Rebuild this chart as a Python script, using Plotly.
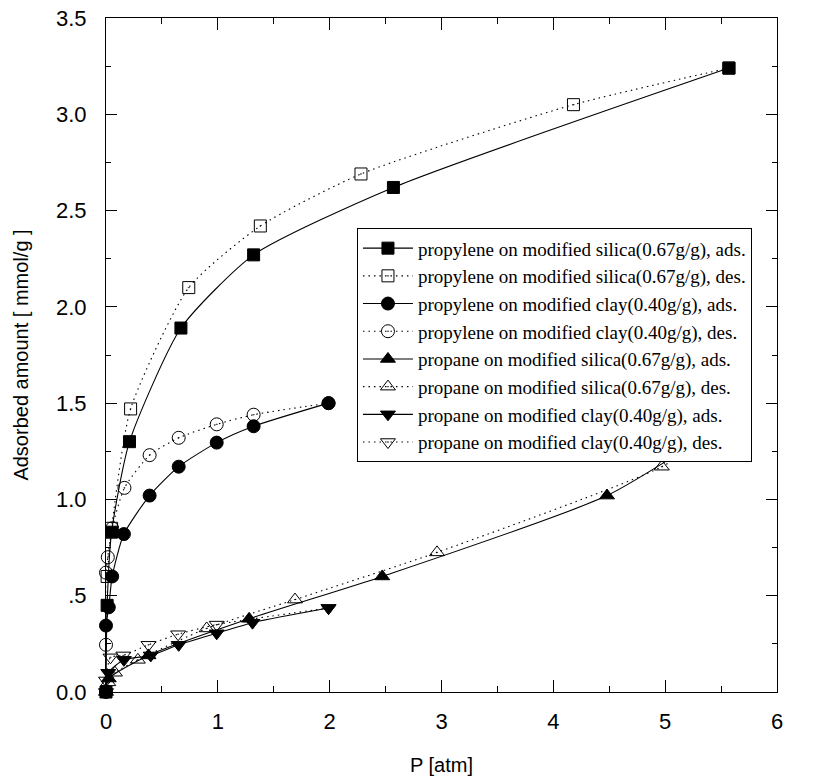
import plotly.graph_objects as go

# ---- data ----
ps_ads_x = [0.0, 0.01, 0.05, 0.21, 0.67, 1.32, 2.57, 5.57]
ps_ads_y = [0.0, 0.45, 0.83, 1.30, 1.89, 2.27, 2.62, 3.24]
ps_des_x = [5.57, 4.18, 2.28, 1.38, 0.74, 0.22, 0.05, 0.01]
ps_des_y = [3.24, 3.05, 2.69, 2.42, 2.10, 1.47, 0.85, 0.60]

pc_ads_x = [0.0, 0.0, 0.025, 0.055, 0.16, 0.39, 0.65, 0.99, 1.32, 1.99]
pc_ads_y = [0.0, 0.345, 0.44, 0.60, 0.82, 1.02, 1.17, 1.295, 1.38, 1.50]
pc_des_x = [1.99, 1.32, 0.99, 0.65, 0.39, 0.165, 0.055, 0.016, 0.0, 0.0]
pc_des_y = [1.50, 1.44, 1.39, 1.32, 1.23, 1.06, 0.85, 0.70, 0.62, 0.245]

ns_ads_x = [0.0, 0.025, 0.38, 1.28, 2.47, 4.48, 5.55]
ns_ads_y = [0.0, 0.07, 0.19, 0.38, 0.60, 1.02, 1.40]
ns_des_x = [5.55, 4.97, 2.96, 1.69, 0.90, 0.285, 0.08, 0.02]
ns_des_y = [1.40, 1.17, 0.725, 0.48, 0.33, 0.167, 0.10, 0.05]

nc_ads_x = [0.0, 0.02, 0.16, 0.40, 0.65, 0.99, 1.31, 1.99]
nc_ads_y = [0.0, 0.10, 0.167, 0.19, 0.245, 0.305, 0.36, 0.436]
nc_des_x = [1.99, 0.99, 0.645, 0.38, 0.155, 0.04, 0.0]
nc_des_y = [0.436, 0.35, 0.30, 0.245, 0.19, 0.18, 0.06]

names = [
    "propylene on modified silica(0.67g/g), ads.",
    "propylene on modified silica(0.67g/g), des.",
    "propylene on modified clay(0.40g/g), ads.",
    "propylene on modified clay(0.40g/g), des.",
    "propane on modified silica(0.67g/g), ads.",
    "propane on modified silica(0.67g/g), des.",
    "propane on modified clay(0.40g/g), ads.",
    "propane on modified clay(0.40g/g), des.",
]

y_tickvals = [0, 0.5, 1.0, 1.5, 2.0, 2.5, 3.0, 3.5]
y_ticktext = ["0.0", ".5", "1.0", "1.5", "2.0", "2.5", "3.0", "3.5"]
x_tickvals = [0, 1, 2, 3, 4, 5, 6]

DOT = "1.5px,4px"
series = [
    (ps_ads_x, ps_ads_y, "square", "solid", 12),
    (ps_des_x, ps_des_y, "square-open-dot", DOT, 12),
    (pc_ads_x, pc_ads_y, "circle", "solid", 13),
    (pc_des_x, pc_des_y, "circle-open-dot", DOT, 13),
    (ns_ads_x, ns_ads_y, "triangle-up", "solid", 13),
    (ns_des_x, ns_des_y, "triangle-up-open-dot", DOT, 13),
    (nc_ads_x, nc_ads_y, "triangle-down", "solid", 13),
    (nc_des_x, nc_des_y, "triangle-down-open-dot", DOT, 13),
]

fig = go.Figure()
for i, (xs, ys, sym, dash, sz) in enumerate(series):
    fig.add_trace(go.Scatter(
        x=xs, y=ys, name=names[i], mode="lines+markers",
        line=dict(color="black", width=1.1, dash=dash, shape="spline", smoothing=0.6),
        marker=dict(symbol=sym, size=sz, color="black",
                    line=dict(color="black", width=1)),
        cliponaxis=False,
    ))

SANS = "Liberation Sans, Arial"
axis_common = dict(
    showline=True, linecolor="black", linewidth=1, mirror="ticks",
    ticks="inside", tickcolor="black", showgrid=False, zeroline=False,
    tickfont=dict(family=SANS, size=22, color="black"),
    automargin=False,
)

fig.update_xaxes(
    range=[0, 6], tickvals=x_tickvals, ticklen=12, tickwidth=1, ticklabelstandoff=10,
    minor=dict(ticks="inside", dtick=0.5, ticklen=6, tickcolor="black"),
    title=dict(text="P [atm]", font=dict(family=SANS, size=20, color="black"), standoff=24),
    **axis_common,
)
fig.update_yaxes(
    range=[0, 3.5], tickvals=y_tickvals, ticktext=y_ticktext, ticklen=11, tickwidth=1,
    ticklabelstandoff=14,
    minor=dict(ticks="inside", dtick=0.25, ticklen=5, tickcolor="black"),
    title=dict(text="Adsorbed amount [ mmol/g ]", font=dict(family=SANS, size=20, color="black"), standoff=22),
    **axis_common,
)

fig.update_layout(
    width=834, height=779,
    margin=dict(l=106, r=57, t=18, b=87, autoexpand=False),
    paper_bgcolor="white", plot_bgcolor="white",
    showlegend=True,
    legend=dict(
        x=0.374, y=0.688, xanchor="left", yanchor="top",
        bgcolor="white", bordercolor="black", borderwidth=1,
        font=dict(family="Liberation Serif, Times New Roman", size=19, color="black"),
        itemwidth=50,
    ),
)

fig.write_html("out.html")
